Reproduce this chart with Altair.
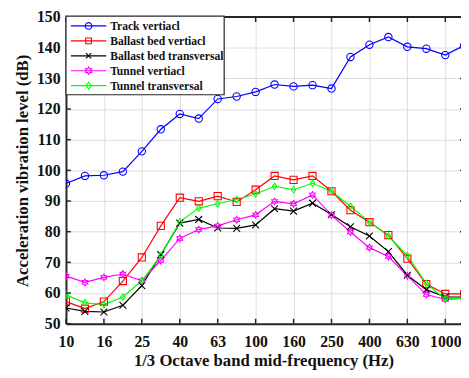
import math
import altair as alt
import pandas as pd

# ---------------- data ----------------
freqs = ["10", "12.5", "16", "20", "25", "31.5", "40", "50", "63", "80", "100",
         "125", "160", "200", "250", "315", "400", "500", "630", "800", "1000", "1250"]
series_names = ["Track vertiacl", "Ballast bed vertiacl", "Ballast bed transversal",
                "Tunnel vertiacl", "Tunnel transversal"]
track_vertical = [95.7, 98.2, 98.4, 99.6, 106.2, 113.4, 118.4, 116.9, 123.3, 124.1, 125.6,
                  128.0, 127.4, 127.8, 126.7, 137.0, 141.0, 143.5, 140.3, 139.7, 137.6, 140.8]
ballast_vertical = [57.2, 54.9, 57.2, 63.9, 71.6, 81.9, 91.1, 89.9, 91.6, 89.7, 93.7,
                    98.2, 96.9, 98.2, 93.2, 87.0, 83.1, 78.9, 71.2, 62.9, 59.7, 59.7]
ballast_transversal = [55.1, 54.0, 53.8, 56.0, 62.4, 72.5, 82.8, 84.0, 81.2, 81.1, 82.2,
                       87.5, 86.7, 89.3, 85.6, 81.6, 78.6, 73.5, 65.8, 61.1, 58.7, 58.7]
tunnel_vertical = [65.5, 63.5, 65.1, 66.2, 64.0, 70.6, 77.8, 80.7, 81.9, 83.9, 85.5,
                   89.9, 89.1, 92.0, 85.4, 79.9, 74.8, 71.9, 65.6, 59.5, 57.9, 58.3]
tunnel_transversal = [59.4, 56.8, 56.2, 58.7, 64.0, 72.2, 83.2, 87.7, 89.1, 90.5, 92.3,
                      94.8, 93.7, 95.8, 93.2, 88.3, 83.2, 78.6, 72.2, 63.1, 58.1, 58.3]
x_tick_idx = list(range(0, 21, 2))
y_ticks = list(range(50, 151, 10))

# ---------------- styles ----------------
colors = ["#0000ff", "#ff0000", "#000000", "#ff00ff", "#00ff00"]


def hexagram():
    pts = []
    for k in range(12):
        a = math.radians(-90 + 30 * k)
        r = 1.0 if k % 2 == 0 else 0.58
        pts.append(f"{r*math.cos(a):.3f},{r*math.sin(a):.3f}")
    return "M" + "L".join(pts) + "Z"


shapes = ["circle", "square", "M-1,-1L1,1M-1,1L1,-1", hexagram(),
          "M0,-1L0.72,0L0,1L-0.72,0Z"]
sizes = [56, 42, 36, 70, 64]

W, H = 402, 312
FONT = "Liberation Serif"
DARK = "#262626"
GRID = "#dcdcdc"

all_vals = [track_vertical, ballast_vertical, ballast_transversal, tunnel_vertical, tunnel_transversal]
rows = []
for name, vals in zip(series_names, all_vals):
    for i, v in enumerate(vals):
        rows.append({"idx": i, "series": name, "value": v})
df = pd.DataFrame(rows)

xscale = alt.Scale(domain=[0, W / 19.3], nice=False, zero=False)
yscale = alt.Scale(domain=[50, 150], nice=False, zero=False)
label_arr = "[" + ",".join(f"'{f}'" for f in freqs) + "]"

x_axis = alt.Axis(values=x_tick_idx, labelExpr=f"{label_arr}[datum.value]", grid=True,
                  gridColor=GRID, gridWidth=1, ticks=False, domainColor=DARK, domainWidth=2,
                  labelFont=FONT, labelFontSize=16, labelFontWeight="bold", labelColor="#111",
                  labelPadding=10, labelFlush=False, labelOverlap=False,
                  title="1/3 Octave band mid-frequency (Hz)", titleFont=FONT, titleFontSize=17,
                  titleFontWeight="bold", titleColor="#111", titlePadding=4)
y_axis = alt.Axis(values=y_ticks, grid=True, gridColor=GRID, gridWidth=1, ticks=False,
                  domainColor=DARK, domainWidth=2, labelFont=FONT, labelFontSize=16,
                  labelFontWeight="bold", labelColor="#111", labelPadding=6, labelFlush=False,
                  labelOverlap=False, title="Acceleration vibration level (dB)", titleFont=FONT,
                  titleFontSize=17, titleFontWeight="bold", titleColor="#111", titlePadding=5)


def X(field):
    return alt.X(field, scale=xscale, axis=x_axis)


def Y(field):
    return alt.Y(field, scale=yscale, axis=y_axis)


color_enc = alt.Color("series:N", scale=alt.Scale(domain=series_names, range=colors), legend=None)
shape_enc = alt.Shape("series:N", scale=alt.Scale(domain=series_names, range=shapes), legend=None)
size_enc = alt.Size("series:N", scale=alt.Scale(domain=series_names, range=sizes), legend=None)

lines = alt.Chart(df).mark_line(strokeWidth=1.2, clip=True).encode(
    x=X("idx:Q"), y=Y("value:Q"), color=color_enc, detail="series:N")
points = alt.Chart(df).mark_point(filled=False, strokeWidth=1.1, opacity=1, clip=True).encode(
    x=X("idx:Q"), y=Y("value:Q"), color=color_enc, shape=shape_enc, size=size_enc)

xt = pd.DataFrame({"idx": x_tick_idx})
yt = pd.DataFrame({"value": y_ticks})
one = pd.DataFrame({"a": [0]})

top_border = alt.Chart(one).mark_rule(color=DARK, strokeWidth=2).encode(
    x=alt.value(0), x2=alt.value(W), y=alt.value(0))
top_ticks = alt.Chart(xt).mark_rule(color=DARK, strokeWidth=1.5).encode(
    x=X("idx:Q"), y=alt.value(0), y2=alt.value(5))
bot_ticks = alt.Chart(xt).mark_rule(color=DARK, strokeWidth=1.5).encode(
    x=X("idx:Q"), y=alt.value(H), y2=alt.value(H - 5))
left_ticks = alt.Chart(yt).mark_rule(color=DARK, strokeWidth=1.5).encode(
    y=Y("value:Q"), x=alt.value(0), x2=alt.value(5))
right_ticks = alt.Chart(yt).mark_rule(color=DARK, strokeWidth=1.5).encode(
    y=Y("value:Q"), x=alt.value(W - 1), x2=alt.value(W + 2))

layers = [lines, points, top_border, top_ticks, bot_ticks, left_ticks, right_ticks]

# legend (manual)
legend_box = alt.Chart(one).mark_rect(fill="white", stroke=DARK, strokeWidth=1.2).encode(
    x=alt.value(0), x2=alt.value(161), y=alt.value(-1), y2=alt.value(79))
layers.append(legend_box)
for i, name in enumerate(series_names):
    ly = 9 + 15.2 * i
    ld = pd.DataFrame({"series": [name]})
    layers.append(alt.Chart(ld).mark_rule(color=colors[i], strokeWidth=1.2).encode(
        x=alt.value(5), x2=alt.value(41), y=alt.value(ly)))
    layers.append(alt.Chart(ld).mark_point(filled=False, strokeWidth=1.1, opacity=1,
                                           color=colors[i], shape=shapes[i],
                                           size=sizes[i] * 0.8).encode(
        x=alt.value(23), y=alt.value(ly)))
    layers.append(alt.Chart(ld).mark_text(font=FONT, fontSize=11.8, fontWeight="bold",
                                          color="#111", align="left", baseline="middle").encode(
        x=alt.value(45), y=alt.value(ly), text="series:N"))

chart = alt.layer(*layers).properties(
    width=W, height=H,
    autosize=alt.AutoSizeParams(type="none"),
    padding={"left": 59, "top": 6, "right": 0, "bottom": 50},
).configure_view(strokeWidth=0)

chart.save("out.html", embed_options={"renderer": "svg", "actions": False})
